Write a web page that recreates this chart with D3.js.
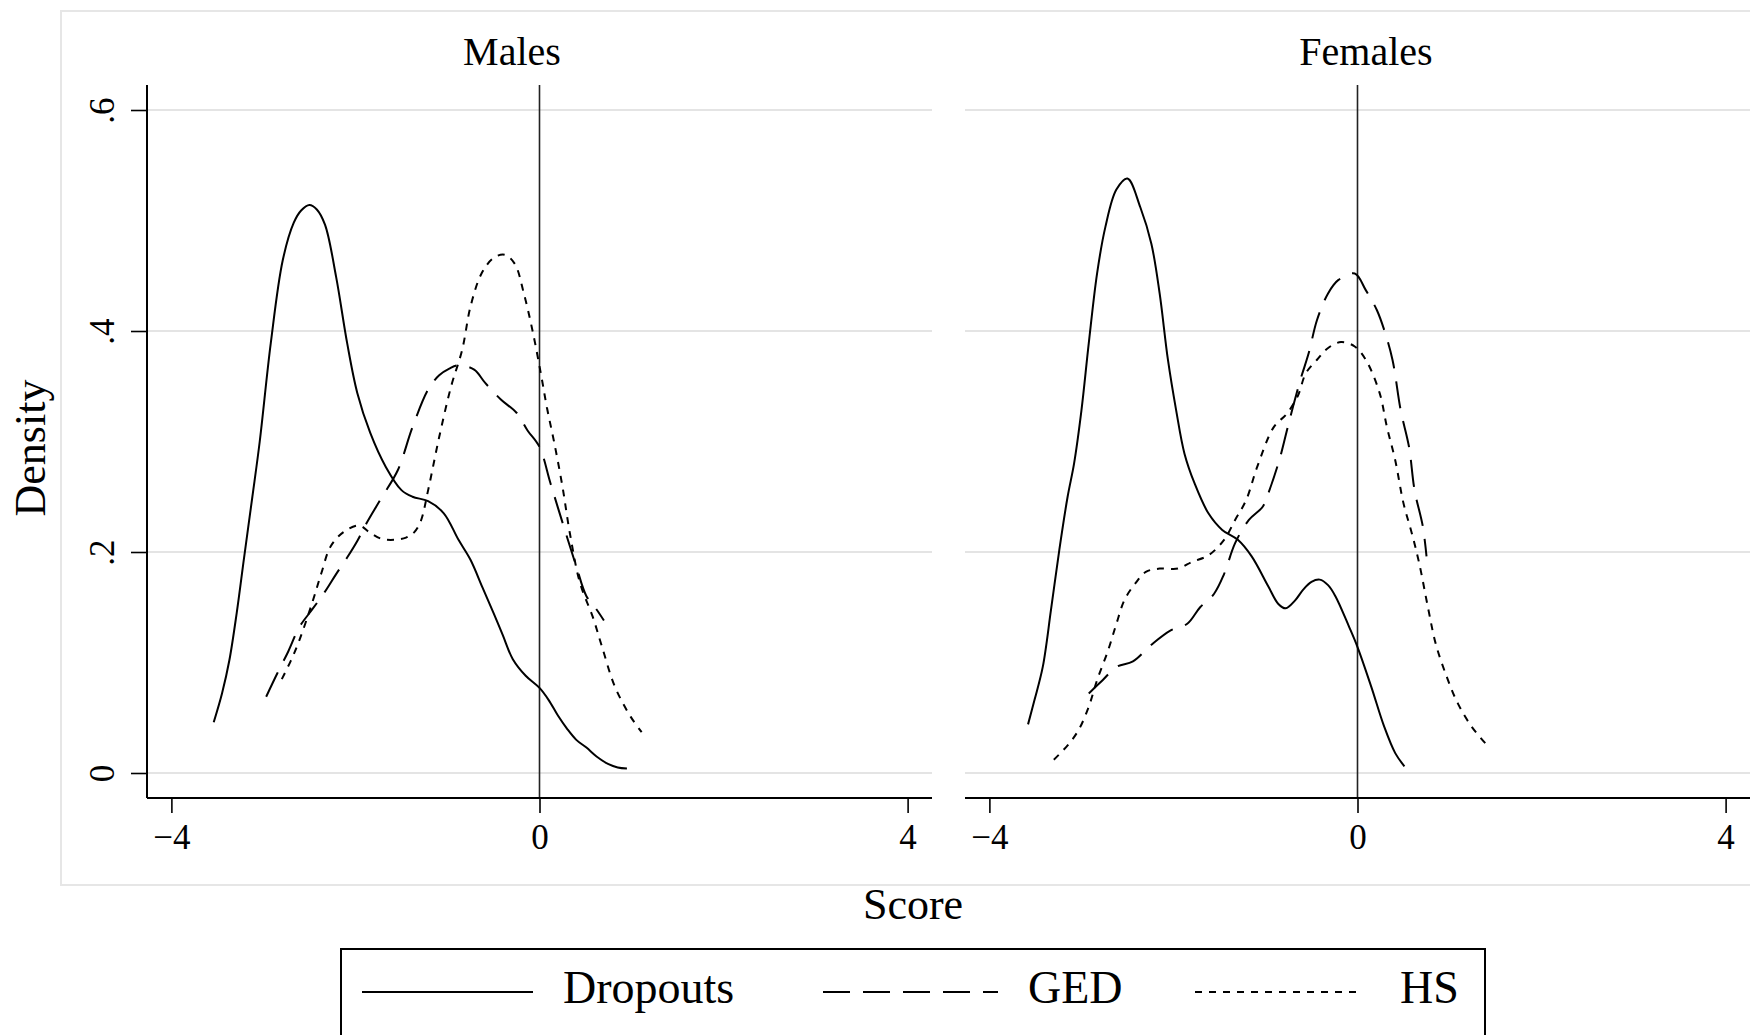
<!DOCTYPE html>
<html>
<head>
<meta charset="utf-8">
<script src="https://cdn.jsdelivr.net/npm/d3@7"></script>
<style>
  html, body { margin: 0; padding: 0; background: #fff; }
  svg { display: block; }
  text { font-family: "Liberation Serif", "DejaVu Serif", serif; fill: #000; }
</style>
</head>
<body>
<svg id="chart" width="1750" height="1035"></svg>
<script>
// ---------------- data ----------------
const panels = ["Males", "Females"];
const seriesNames = ["Dropouts", "GED", "HS"];
const xTicks = [-4, 0, 4];
const yTicks = [0, 0.2, 0.4, 0.6];
const yTickLabels = ["0", ".2", ".4", ".6"];

const maleDropouts = [[-3.54,0.046],[-3.45,0.072],[-3.37,0.102],[-3.29,0.145],[-3.21,0.195],[-3.12,0.250],[-3.04,0.300],[-2.92,0.389],[-2.79,0.464],[-2.67,0.498],[-2.59,0.509],[-2.50,0.514],[-2.42,0.510],[-2.33,0.496],[-2.21,0.449],[-2.09,0.389],[-1.98,0.344],[-1.84,0.308],[-1.67,0.277],[-1.50,0.256],[-1.38,0.250],[-1.21,0.246],[-1.04,0.235],[-0.88,0.211],[-0.75,0.193],[-0.62,0.168],[-0.50,0.145],[-0.40,0.125],[-0.29,0.103],[-0.15,0.088],[0.00,0.077],[0.10,0.066],[0.20,0.052],[0.30,0.040],[0.40,0.030],[0.51,0.023],[0.62,0.015],[0.75,0.008],[0.85,0.005],[0.95,0.004]];
const maleGED = [[-2.97,0.069],[-2.85,0.090],[-2.73,0.110],[-2.61,0.132],[-2.47,0.148],[-2.34,0.163],[-2.21,0.180],[-2.09,0.195],[-1.98,0.210],[-1.88,0.226],[-1.71,0.250],[-1.54,0.274],[-1.38,0.313],[-1.21,0.347],[-1.09,0.360],[-0.98,0.366],[-0.88,0.369],[-0.71,0.365],[-0.59,0.353],[-0.42,0.338],[-0.25,0.326],[-0.13,0.310],[0.00,0.295],[0.12,0.262],[0.26,0.224],[0.40,0.187],[0.51,0.160],[0.62,0.148],[0.70,0.138]];
const maleHS = [[-2.80,0.085],[-2.70,0.102],[-2.61,0.120],[-2.47,0.154],[-2.37,0.181],[-2.27,0.205],[-2.13,0.218],[-1.96,0.224],[-1.85,0.218],[-1.72,0.212],[-1.58,0.211],[-1.45,0.213],[-1.36,0.218],[-1.29,0.228],[-1.21,0.256],[-1.09,0.304],[-0.96,0.350],[-0.84,0.383],[-0.75,0.422],[-0.63,0.452],[-0.50,0.466],[-0.38,0.469],[-0.27,0.461],[-0.17,0.434],[-0.07,0.398],[0.02,0.359],[0.08,0.331],[0.16,0.299],[0.25,0.259],[0.33,0.217],[0.44,0.172],[0.58,0.141],[0.68,0.114],[0.82,0.078],[0.99,0.051],[1.11,0.037]];

const femaleDropouts = [[-3.58,0.044],[-3.51,0.066],[-3.42,0.096],[-3.33,0.148],[-3.24,0.202],[-3.15,0.250],[-3.08,0.280],[-3.00,0.328],[-2.92,0.389],[-2.83,0.452],[-2.74,0.494],[-2.62,0.528],[-2.50,0.538],[-2.36,0.512],[-2.24,0.479],[-2.15,0.434],[-2.06,0.374],[-1.97,0.328],[-1.88,0.289],[-1.77,0.262],[-1.62,0.235],[-1.47,0.220],[-1.30,0.211],[-1.15,0.196],[-0.97,0.169],[-0.86,0.153],[-0.78,0.149],[-0.68,0.156],[-0.59,0.166],[-0.50,0.173],[-0.41,0.175],[-0.32,0.170],[-0.24,0.160],[-0.09,0.132],[0.00,0.114],[0.15,0.078],[0.29,0.042],[0.41,0.018],[0.51,0.006]];
const femaleGED = [[-2.92,0.072],[-2.77,0.084],[-2.62,0.096],[-2.44,0.101],[-2.24,0.116],[-2.03,0.129],[-1.85,0.135],[-1.71,0.150],[-1.56,0.162],[-1.45,0.180],[-1.33,0.208],[-1.18,0.229],[-1.03,0.241],[-0.97,0.253],[-0.85,0.283],[-0.74,0.319],[-0.62,0.356],[-0.53,0.380],[-0.44,0.410],[-0.32,0.434],[-0.21,0.446],[-0.03,0.452],[0.09,0.437],[0.21,0.419],[0.29,0.401],[0.38,0.374],[0.47,0.328],[0.56,0.295],[0.62,0.256],[0.71,0.223],[0.75,0.196]];
const femaleHS = [[-3.30,0.012],[-3.15,0.025],[-3.03,0.039],[-2.92,0.060],[-2.83,0.084],[-2.71,0.111],[-2.62,0.135],[-2.53,0.157],[-2.41,0.172],[-2.30,0.182],[-2.15,0.185],[-1.95,0.185],[-1.80,0.191],[-1.62,0.197],[-1.45,0.211],[-1.33,0.229],[-1.21,0.247],[-1.09,0.277],[-0.91,0.313],[-0.77,0.325],[-0.65,0.341],[-0.56,0.362],[-0.44,0.374],[-0.33,0.384],[-0.18,0.390],[-0.03,0.386],[0.09,0.374],[0.24,0.344],[0.32,0.313],[0.41,0.283],[0.50,0.244],[0.59,0.217],[0.67,0.190],[0.77,0.148],[0.85,0.117],[0.97,0.087],[1.09,0.063],[1.24,0.042],[1.41,0.025]];

// ---------------- layout ----------------
const svg = d3.select("#chart");
const dashes = { Dropouts: null, GED: "27,13", HS: "7,7" };
const panelData = {
  Males: { Dropouts: maleDropouts, GED: maleGED, HS: maleHS },
  Females: { Dropouts: femaleDropouts, GED: femaleGED, HS: femaleHS }
};
const plotTop = 85, plotBottom = 798;
const panelRanges = { Males: [147, 932], Females: [965, 1750] };
const titleX = { Males: 512, Females: 1366 };
const xDomain = [-4.265, 4.265];
const y = d3.scaleLinear().domain([0, 0.6]).range([773, 110]);
const tickFont = 35;

// outer graph-region border
svg.append("rect").attr("x", 61).attr("y", 11).attr("width", 1760).attr("height", 874)
  .attr("fill", "none").attr("stroke", "#e6e6e6").attr("stroke-width", 2);

panels.forEach(p => {
  const [x0, x1] = panelRanges[p];
  const x = d3.scaleLinear().domain(xDomain).range([x0, x1]);
  const g = svg.append("g");

  // gridlines
  g.selectAll("line.grid").data(yTicks).enter().append("line")
    .attr("x1", x0).attr("x2", x1)
    .attr("y1", d => y(d)).attr("y2", d => y(d))
    .attr("stroke", "#e4e4e4").attr("stroke-width", 2);

  // reference line at 0
  g.append("line").attr("x1", x(0)).attr("x2", x(0))
    .attr("y1", plotTop).attr("y2", plotBottom)
    .attr("stroke", "#222").attr("stroke-width", 1.6);

  // x axis
  const xAxis = d3.axisBottom(x).tickValues(xTicks).tickSize(15).tickSizeOuter(0).tickPadding(11);
  const ax = g.append("g").attr("transform", `translate(0,${plotBottom})`).call(xAxis);
  ax.select(".domain").remove();
  ax.selectAll(".tick line").attr("stroke", "#000").attr("stroke-width", 1.6);
  ax.selectAll(".tick text").attr("font-size", tickFont).attr("font-family", "Liberation Serif, serif").attr("fill", "#000");
  g.append("line").attr("x1", x0).attr("x2", x1).attr("y1", plotBottom).attr("y2", plotBottom)
    .attr("stroke", "#000").attr("stroke-width", 2);

  if (p === "Males") {
    const yAxis = d3.axisLeft(y).tickValues(yTicks).tickSize(16).tickSizeOuter(0)
      .tickFormat((d, i) => yTickLabels[i]);
    const ay = g.append("g").attr("transform", `translate(${x0},0)`).call(yAxis);
    ay.select(".domain").remove();
    ay.selectAll(".tick line").attr("stroke", "#000").attr("stroke-width", 1.6);
    ay.selectAll(".tick text")
      .attr("font-size", tickFont).attr("font-family", "Liberation Serif, serif").attr("fill", "#000")
      .attr("transform", "rotate(-90)")
      .attr("x", 0).attr("y", -33).attr("dy", 0)
      .attr("text-anchor", "middle");
    g.append("line").attr("x1", x0).attr("x2", x0).attr("y1", plotTop).attr("y2", plotBottom)
      .attr("stroke", "#000").attr("stroke-width", 2);
  }

  // panel title
  svg.append("text").attr("x", titleX[p]).attr("y", 65).attr("text-anchor", "middle")
    .attr("font-size", 40).text(p);

  // curves
  const line = d3.line().x(d => x(d[0])).y(d => y(d[1])).curve(d3.curveCatmullRom.alpha(0.5));
  seriesNames.forEach(s => {
    g.append("path").datum(panelData[p][s])
      .attr("d", line)
      .attr("fill", "none").attr("stroke", "#000").attr("stroke-width", 2)
      .attr("stroke-dasharray", dashes[s]);
  });
});

// axis titles
svg.append("text").attr("x", 913).attr("y", 919).attr("text-anchor", "middle")
  .attr("font-size", 44).text("Score");
svg.append("text").attr("transform", "translate(45,448) rotate(-90)").attr("text-anchor", "middle")
  .attr("font-size", 44).text("Density");

// legend
const legend = svg.append("g");
legend.append("rect").attr("x", 341).attr("y", 949).attr("width", 1144).attr("height", 200)
  .attr("fill", "#fff").attr("stroke", "#000").attr("stroke-width", 2);
const legendLineX = { Dropouts: [362, 533], GED: [823, 998], HS: [1195, 1363] };
const legendTextX = { Dropouts: 563, GED: 1028, HS: 1400 };
seriesNames.forEach(s => {
  legend.append("line").attr("x1", legendLineX[s][0]).attr("x2", legendLineX[s][1])
    .attr("y1", 992).attr("y2", 992)
    .attr("stroke", "#000").attr("stroke-width", 2).attr("stroke-dasharray", dashes[s]);
  legend.append("text").attr("x", legendTextX[s]).attr("y", 1003).attr("font-size", 46).text(s);
});
</script>
</body>
</html>
